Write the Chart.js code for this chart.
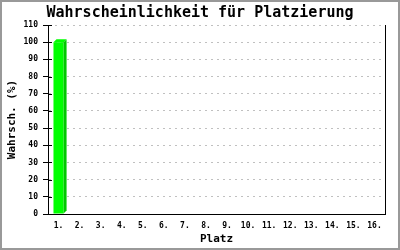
<!DOCTYPE html>
<html>
<head>
<meta charset="utf-8">
<script src="https://cdn.jsdelivr.net/npm/chart.js@4/dist/chart.umd.min.js"></script>
<style>
  html, body { margin: 0; padding: 0; background: #fff; }
  #wrap { width: 400px; height: 250px; position: relative; }
</style>
</head>
<body>
<div id="wrap"><canvas id="c" width="400" height="250"></canvas></div>
<script>
// Placements and their probabilities (percent)
const places = ['1.', '2.', '3.', '4.', '5.', '6.', '7.', '8.', '9.', '10.', '11.', '12.', '13.', '14.', '15.', '16.'];
const probabilities = [100, 0, 0, 0, 0, 0, 0, 0, 0, 0, 0, 0, 0, 0, 0, 0];
const yTicks = [0, 10, 20, 30, 40, 50, 60, 70, 80, 90, 100, 110];

const MONO = '"DejaVu Sans Mono", "Liberation Mono", monospace';

// Grey frame round the whole picture plus the solid right edge of the plot
const framePlugin = {
  id: 'frame',
  beforeDraw(chart) {
    const ctx = chart.ctx;
    ctx.save();
    ctx.fillStyle = '#fff';
    ctx.fillRect(0, 0, chart.width, chart.height);
    ctx.restore();
  },
  afterDraw(chart) {
    const ctx = chart.ctx;
    const a = chart.chartArea;
    ctx.save();
    ctx.strokeStyle = '#000';
    ctx.lineWidth = 1;
    ctx.beginPath();
    ctx.moveTo(Math.round(a.right) + 0.5, a.top);
    ctx.lineTo(Math.round(a.right) + 0.5, a.bottom);
    ctx.stroke();
    ctx.strokeStyle = '#999';
    ctx.lineWidth = 2;
    ctx.strokeRect(1, 1, chart.width - 2, chart.height - 2);
    ctx.restore();
  }
};

// Extruded look for the bars: top face and darker right side
const depthPlugin = {
  id: 'depth',
  afterDatasetsDraw(chart) {
    const ctx = chart.ctx;
    const d = 3;
    const meta = chart.getDatasetMeta(0);
    meta.data.forEach((bar, i) => {
      if (!probabilities[i]) return;
      const p = bar.getProps(['x', 'y', 'base', 'width'], true);
      const l = p.x - p.width / 2, r = p.x + p.width / 2;
      ctx.save();
      ctx.fillStyle = '#00ff00';
      ctx.beginPath();
      ctx.moveTo(l, p.y);
      ctx.lineTo(l + d, p.y - d);
      ctx.lineTo(r + d, p.y - d);
      ctx.lineTo(r, p.y);
      ctx.closePath();
      ctx.fill();
      ctx.fillStyle = '#00c800';
      ctx.beginPath();
      ctx.moveTo(r, p.y);
      ctx.lineTo(r + d, p.y - d);
      ctx.lineTo(r + d, p.base - d);
      ctx.lineTo(r, p.base);
      ctx.closePath();
      ctx.fill();
      ctx.restore();
    });
  }
};

// Y tick marks cross the axis line slightly into the plot
const tickCrossPlugin = {
  id: 'tickCross',
  afterDraw(chart) {
    const ctx = chart.ctx;
    const y = chart.scales.y;
    const x0 = Math.round(chart.chartArea.left);
    ctx.save();
    ctx.strokeStyle = '#000';
    ctx.lineWidth = 1;
    y.ticks.forEach(t => {
      const py = Math.round(y.getPixelForValue(t.value)) + 0.5;
      ctx.beginPath();
      ctx.moveTo(x0, py);
      ctx.lineTo(x0 + 4, py);
      ctx.stroke();
    });
    ctx.restore();
  }
};

new Chart(document.getElementById('c'), {
  type: 'bar',
  data: {
    labels: places,
    datasets: [{
      data: probabilities,
      backgroundColor: '#00ff00',
      borderWidth: 0,
      barPercentage: 0.48,
      categoryPercentage: 1
    }]
  },
  options: {
    responsive: false,
    animation: false,
    devicePixelRatio: 1,
    layout: { padding: { top: 4, left: 0, right: 0, bottom: 0 } },
    plugins: {
      legend: { display: false },
      tooltip: { enabled: false },
      title: {
        display: true,
        text: 'Wahrscheinlichkeit für Platzierung',
        color: '#000',
        font: { family: MONO, size: 15, weight: 'bold', lineHeight: 1.2 },
        padding: { top: 0, bottom: 3 }
      }
    },
    scales: {
      x: {
        grid: { display: false, drawTicks: false },
        border: { display: true, color: '#000', width: 1 },
        ticks: {
          color: '#000',
          padding: 7,
          maxRotation: 0,
          autoSkip: false,
          font: { family: MONO, size: 8, weight: 'bold' }
        },
        title: {
          display: true,
          text: 'Platz',
          color: '#000',
          font: { family: MONO, size: 11, weight: 'bold', lineHeight: 1.2 },
          padding: { top: 0, bottom: 4 }
        },
        afterFit(s) { s.height = 36; }
      },
      y: {
        min: 0,
        max: 110,
        afterBuildTicks(s) { s.ticks = yTicks.map(v => ({ value: v })); },
        grid: {
          color: '#c0c0c0',
          lineWidth: 1,
          tickColor: '#000',
          tickLength: 5,
          tickBorderDash: [],
          drawTicks: true
        },
        border: { display: true, color: '#000', width: 1, dash: [2, 4] },
        ticks: {
          color: '#000',
          padding: 5,
          font: { family: MONO, size: 8, weight: 'bold' }
        },
        title: {
          display: true,
          text: 'Wahrsch. (%)',
          color: '#000',
          font: { family: MONO, size: 11, weight: 'bold', lineHeight: 1.2 },
          padding: { top: 6, bottom: 0 }
        },
        afterFit(s) { s.width = 48; }
      },
      // empty strip on the right so the plot ends before the frame
      yRight: {
        position: 'right',
        display: true,
        min: 0,
        max: 110,
        grid: { display: false, drawTicks: false },
        border: { display: false },
        ticks: { display: false },
        afterFit(s) { s.width = 15; }
      }
    }
  },
  plugins: [framePlugin, depthPlugin, tickCrossPlugin]
});
</script>
</body>
</html>
